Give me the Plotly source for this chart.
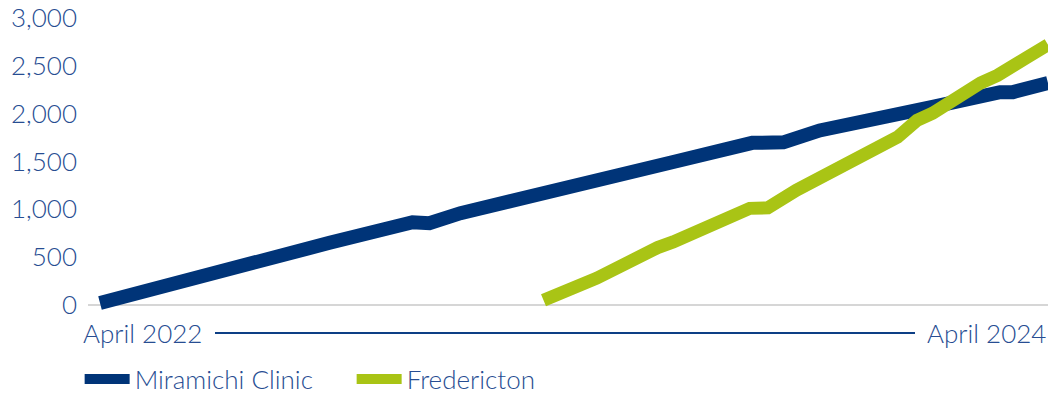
import plotly.graph_objects as go

# ---- data ----
miramichi_dates = [
    "2022-04-01", "2022-05-16", "2022-07-23", "2022-09-15", "2022-09-25",
    "2022-11-28", "2022-12-11", "2023-01-04", "2023-03-29", "2023-04-14",
    "2023-06-07", "2023-06-17", "2023-08-17", "2023-09-10", "2023-10-08",
    "2023-12-09", "2024-01-03", "2024-02-24", "2024-03-05", "2024-04-01",
]
miramichi_values = [
    20, 180, 440, 645, 650,
    865, 855, 960, 1250, 1275,
    1480, 1495, 1695, 1700, 1825,
    1985, 2070, 2225, 2225, 2320,
]
fredericton_dates = [
    "2023-03-09", "2023-04-19", "2023-06-05", "2023-06-17", "2023-08-15",
    "2023-08-29", "2023-09-20", "2023-12-07", "2023-12-22", "2024-01-03",
    "2024-02-09", "2024-02-22", "2024-03-16", "2024-04-01",
]
fredericton_values = [
    50, 280, 600, 660, 1010,
    1015, 1200, 1755, 1930, 2005,
    2320, 2400, 2590, 2720,
]
y_ticks = [0, 500, 1000, 1500, 2000, 2500, 3000]
start_label = "April 2022"
end_label = "April 2024"
series_names = ["Miramichi Clinic", "Fredericton"]

BLUE = "#003478"
GREEN = "#a9c415"
TEXT = "#274d92"
FONT = "Lato"
FS = 26
FW = 300

fig = go.Figure()
fig.add_trace(go.Scatter(
    x=miramichi_dates, y=miramichi_values, mode="lines", name=series_names[0],
    line=dict(color=BLUE, width=14),
))
fig.add_trace(go.Scatter(
    x=fredericton_dates, y=fredericton_values, mode="lines", name=series_names[1],
    line=dict(color=GREEN, width=13),
))

label_y = -0.043
fig.add_annotation(
    x=miramichi_dates[0], xref="x", y=label_y, yref="paper",
    text=start_label, showarrow=False, xanchor="left", yanchor="middle",
    xshift=-19, font=dict(family=FONT, size=FS, color=TEXT, weight=FW),
)
fig.add_annotation(
    x=miramichi_dates[-1], xref="x", y=label_y, yref="paper",
    text=end_label, showarrow=False, xanchor="right", yanchor="middle",
    xshift=0, font=dict(family=FONT, size=FS, color=TEXT, weight=FW),
)
fig.add_shape(
    type="line", xref="paper", yref="paper",
    x0=(215 - 88) / 960, x1=(915 - 88) / 960, y0=label_y, y1=label_y,
    line=dict(color="#0d3f85", width=2),
)

fig.update_layout(
    width=1048, height=395,
    margin=dict(l=88, r=0, t=18, b=75),
    plot_bgcolor="white", paper_bgcolor="white",
    font=dict(family=FONT, size=FS, color=TEXT, weight=FW),
    xaxis=dict(
        type="date", range=["2022-03-22 18:00", "2024-04-01"],
        showgrid=False, showticklabels=False, showline=False, zeroline=False, ticks="",
    ),
    yaxis=dict(
        range=[-157, 3000], tickvals=y_ticks, tickformat=",",
        showgrid=False, zeroline=True, zerolinecolor="#d6d6d6", zerolinewidth=2,
        showline=False, ticks="", ticklabelstandoff=10,
        tickfont=dict(family=FONT, size=FS, color=TEXT, weight=FW),
    ),
    showlegend=True,
    legend=dict(
        orientation="h", xref="container", x=0.076, xanchor="left",
        yref="container", y=0.04, yanchor="middle",
        font=dict(family=FONT, size=FS, color=TEXT, weight=FW),
        itemwidth=45,
        entrywidth=212, entrywidthmode="pixels",
        bgcolor="rgba(0,0,0,0)",
    ),
)

fig.write_html("out.html")
